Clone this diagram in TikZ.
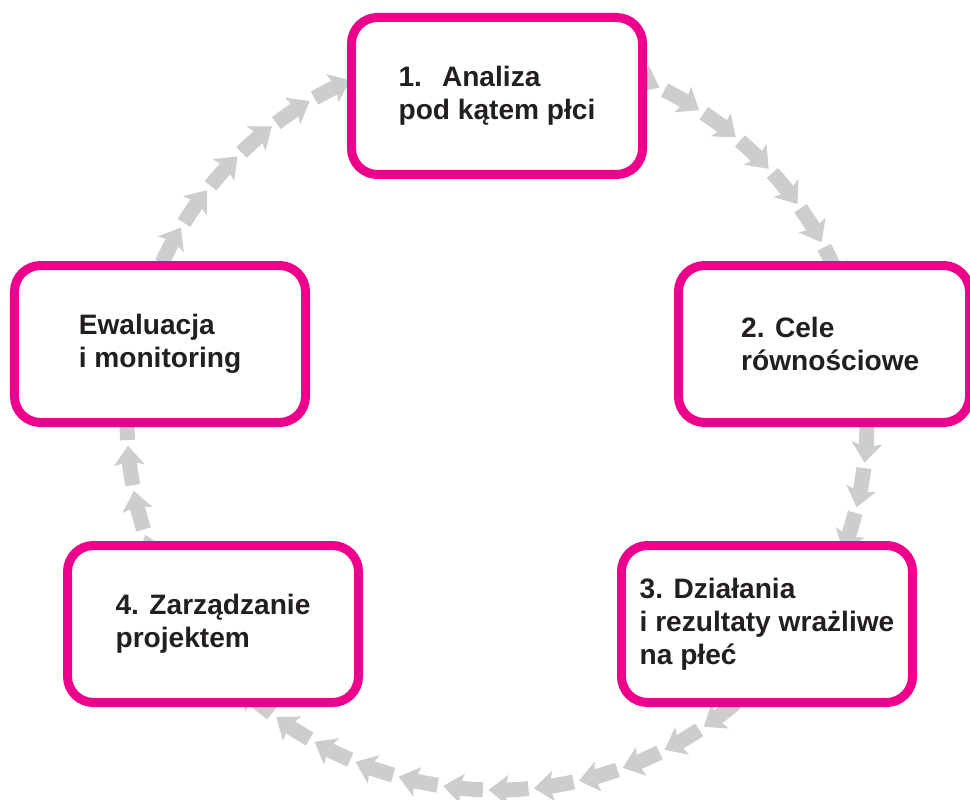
\documentclass[tikz,border=0pt]{standalone}
\usepackage{fontspec}
\setmainfont{Liberation Sans}
\usetikzlibrary{arrows.meta}
\definecolor{cyclepink}{RGB}{236,0,140}
\definecolor{cyclegray}{RGB}{204,205,207}
\definecolor{cycletext}{RGB}{35,31,32}

\begin{document}
\begin{tikzpicture}[
		stage/.style={draw=cyclepink, line width=1.8mm, fill=white, rounded corners=5.2mm,
			minimum width=5.82cm, minimum height=3.14cm, align=left, text=cycletext,
			font=\bfseries\fontsize{16}{18.7}\selectfont},
		flow/.style={cyclegray, line width=3mm, -{Stealth[length=3.9mm,width=6mm,inset=0.8mm]}}
	]
		\useasboundingbox (0,0) rectangle (19.4,15.98);
		\coordinate (mid) at (9.94,7.58);
		% arrows round the cycle, the boxes cover them
		\foreach \k [evaluate=\k as \a using 28.7-7.06*\k, evaluate=\k as \b using 34.9-7.06*\k] in {0,...,50}
			\draw[flow] ([shift={(\b:7.4)}]mid) arc[start angle=\b, end angle=\a, radius=7.4];
		
		\node[stage] (analiza) at (9.94,14.06) {1.\hspace{0.4cm}Analiza\\pod kątem płci};
		\node[stage] (cele) at (16.48,9.10) {\hspace*{0.25cm}2. Cele\\\hspace*{0.25cm}równościowe};
		\node[stage] (dzialania) at (15.34,3.50) {3. Działania\\i rezultaty wrażliwe\\na płeć};
		\node[stage] (zarzadzanie) at (4.26,3.50) {4. Zarządzanie\\projektem};
		\node[stage] (ewaluacja) at (3.20,9.10) {Ewaluacja\\i monitoring};
	\end{tikzpicture}
\end{document}
